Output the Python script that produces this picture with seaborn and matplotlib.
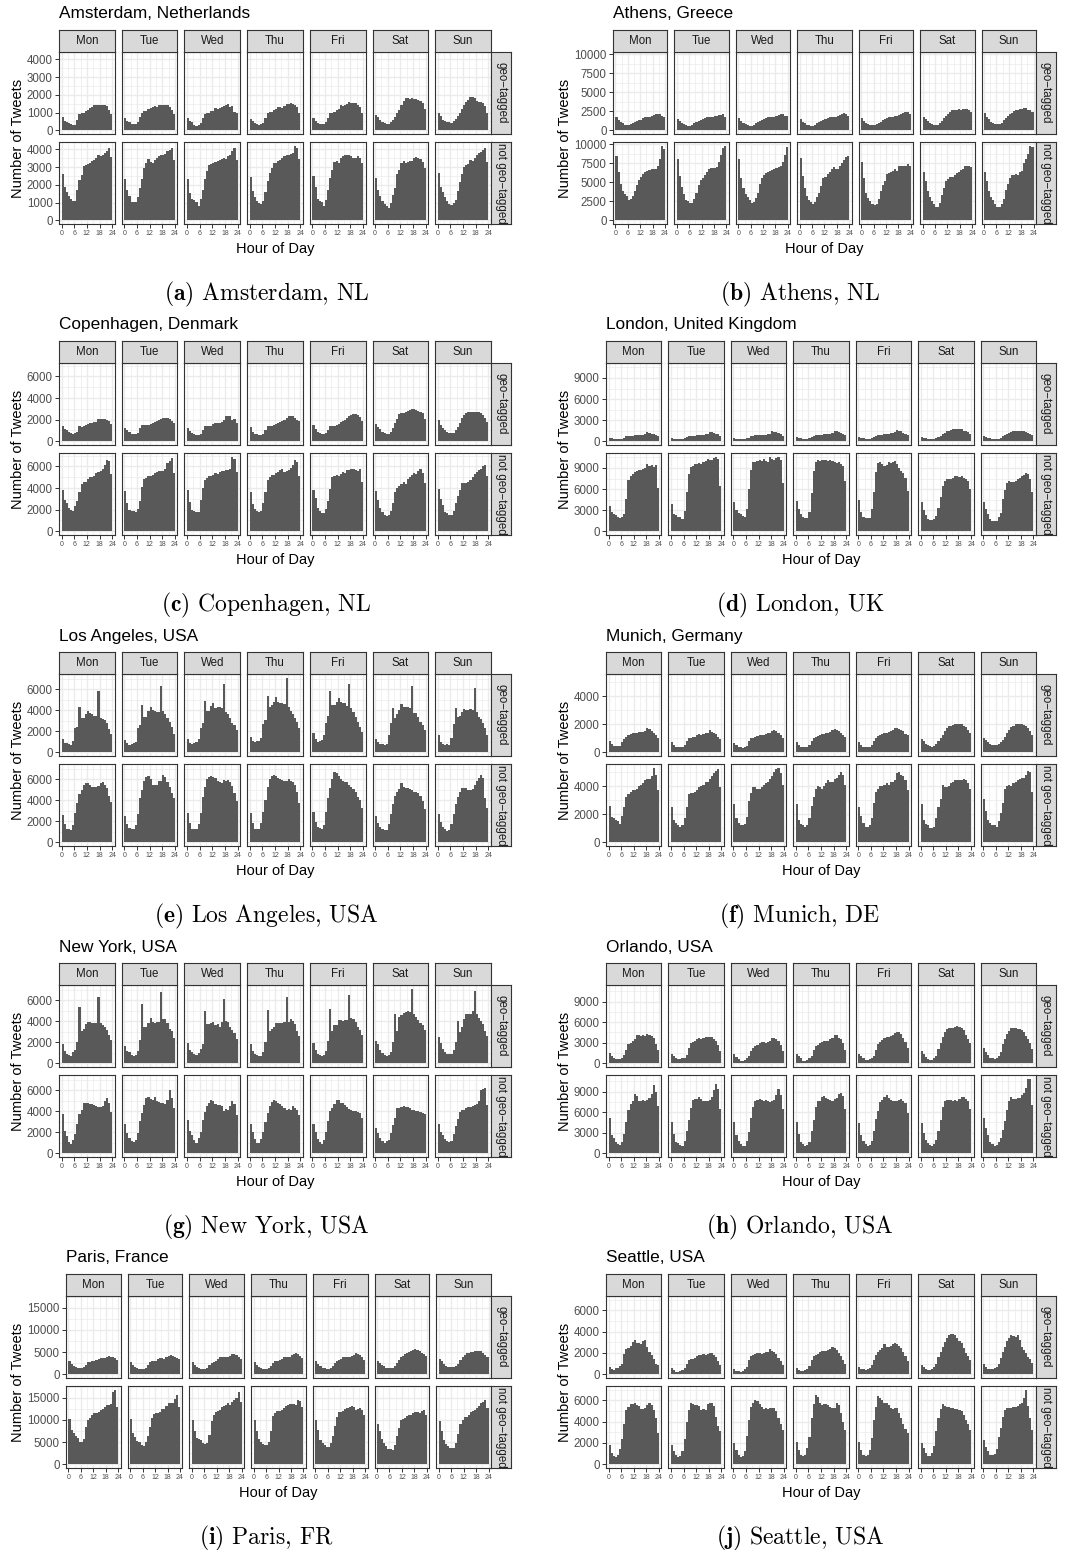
import matplotlib
matplotlib.use("Agg")
import matplotlib.pyplot as plt
import numpy as np
import pandas as pd
import seaborn as sns

sns.set_theme(style="white")
plt.rcParams["font.family"] = ["Liberation Sans", "DejaVu Sans"]
plt.rcParams["mathtext.fontset"] = "cm"

# ------------------------------------------------------------------ data
DAYS = ["Mon", "Tue", "Wed", "Thu", "Fri", "Sat", "Sun"]
HOURS = list(range(24))
ROW_LABELS = ["geo\u2212tagged", "not geo\u2212tagged"]

CITY_KEYS = ["amsterdam", "athens", "copenhagen", "london", "losangeles",
             "munich", "newyork", "orlando", "paris", "seattle"]
CITY_TITLES = ["Amsterdam, Netherlands", "Athens, Greece", "Copenhagen, Denmark",
               "London, United Kingdom", "Los Angeles, USA", "Munich, Germany",
               "New York, USA", "Orlando, USA", "Paris, France", "Seattle, USA"]
CAPTION_TAGS = ["(a)", "(b)", "(c)", "(d)", "(e)", "(f)", "(g)", "(h)", "(i)", "(j)"]
CAPTION_NAMES = ["Amsterdam, NL", "Athens, NL", "Copenhagen, NL", "London, UK",
                 "Los Angeles, USA", "Munich, DE", "New York, USA", "Orlando, USA",
                 "Paris, FR", "Seattle, USA"]
Y_BREAKS = [[0, 1000, 2000, 3000, 4000], [0, 2500, 5000, 7500, 10000],
            [0, 2000, 4000, 6000], [0, 3000, 6000, 9000], [0, 2000, 4000, 6000],
            [0, 2000, 4000], [0, 2000, 4000, 6000], [0, 3000, 6000, 9000],
            [0, 5000, 10000, 15000], [0, 2000, 4000, 6000]]
X_BREAKS = [0, 6, 12, 18, 24]
X_MINOR = [3, 9, 15, 21]

amsterdam_geo = [
    [750, 550, 450, 400, 350, 320, 300, 600, 900, 1000, 1000, 1100, 1150, 1250, 1300, 1400, 1400, 1450, 1450, 1450, 1450, 1350, 1150, 900],
    [700, 550, 450, 350, 330, 350, 450, 750, 1000, 1100, 1100, 1200, 1250, 1300, 1350, 1300, 1400, 1400, 1450, 1450, 1400, 1300, 1150, 900],
    [700, 500, 450, 300, 250, 280, 400, 700, 900, 1000, 1000, 1100, 1100, 1250, 1200, 1250, 1300, 1350, 1400, 1500, 1300, 1350, 1050, 950],
    [650, 500, 400, 350, 300, 330, 400, 700, 950, 1050, 1050, 1150, 1200, 1300, 1300, 1250, 1350, 1500, 1500, 1550, 1500, 1450, 1300, 1000],
    [700, 550, 400, 380, 380, 380, 450, 700, 950, 1000, 1050, 1150, 1200, 1400, 1350, 1450, 1500, 1600, 1550, 1550, 1550, 1450, 1300, 1000],
    [850, 750, 600, 450, 400, 350, 380, 450, 600, 750, 1000, 1150, 1450, 1650, 1800, 1800, 1750, 1800, 1750, 1750, 1700, 1650, 1550, 1200],
    [950, 800, 600, 500, 450, 450, 400, 500, 650, 800, 1000, 1200, 1450, 1600, 1700, 1850, 1850, 1800, 1650, 1600, 1600, 1550, 1350, 1000],
]
amsterdam_notgeo = [
    [2600, 1850, 1600, 1350, 1200, 1100, 1100, 1700, 2250, 2550, 3050, 3100, 3150, 3200, 3350, 3400, 3500, 3700, 3600, 3700, 3800, 3900, 4050, 3550],
    [2350, 1700, 1350, 1050, 1050, 1050, 1300, 1800, 2300, 2950, 3200, 3450, 3300, 3250, 3400, 3500, 3600, 3700, 3650, 3750, 3900, 3950, 4100, 3400],
    [2350, 1550, 1200, 1150, 1050, 800, 1200, 1700, 2300, 2800, 3100, 3150, 3250, 3300, 3350, 3400, 3450, 3500, 3450, 3600, 3700, 3900, 4050, 3400],
    [2450, 1650, 1300, 1100, 950, 900, 1100, 1600, 2200, 2650, 2950, 3250, 3200, 3350, 3400, 3500, 3600, 3650, 3700, 3750, 3800, 4200, 4100, 3450],
    [2500, 1850, 1200, 1100, 1050, 800, 1150, 1700, 2400, 2850, 3300, 3350, 3200, 3500, 3600, 3700, 3650, 3650, 3600, 3500, 3500, 3600, 3500, 3250],
    [2400, 1700, 1350, 1100, 900, 800, 700, 1000, 1400, 1800, 2600, 2850, 3200, 3350, 3250, 3300, 3350, 3350, 3500, 3550, 3500, 3450, 3300, 2950],
    [2650, 1900, 1600, 1300, 1100, 900, 850, 950, 1150, 1650, 2150, 2600, 3000, 3100, 3150, 3400, 3350, 3500, 3650, 3800, 3850, 3950, 4050, 3300],
]
athens_geo = [
    [1700, 1300, 1100, 900, 700, 650, 700, 800, 900, 1100, 1200, 1300, 1400, 1600, 1700, 1800, 1800, 1900, 2000, 2100, 2200, 2100, 1900, 1700],
    [1500, 1200, 1000, 800, 650, 600, 600, 700, 900, 1100, 1200, 1300, 1500, 1600, 1700, 1700, 1800, 1800, 1900, 1900, 2000, 2000, 2200, 1800],
    [1600, 1200, 1000, 800, 650, 600, 600, 750, 900, 1100, 1200, 1400, 1500, 1600, 1700, 1700, 1800, 1800, 1900, 2000, 2200, 2100, 1900, 1900],
    [1500, 1100, 900, 700, 650, 550, 550, 700, 900, 1100, 1200, 1300, 1500, 1600, 1700, 1700, 1800, 1800, 1900, 2000, 2200, 2300, 2100, 1900],
    [1600, 1200, 1000, 800, 700, 650, 650, 800, 900, 1100, 1300, 1500, 1600, 1700, 1800, 1800, 1900, 1900, 2000, 2100, 2300, 2400, 2400, 2200],
    [1800, 1500, 1200, 1000, 800, 650, 650, 700, 900, 1200, 1600, 1900, 2200, 2400, 2600, 2700, 2700, 2800, 2700, 2800, 2800, 2800, 2600, 2400],
    [2300, 1800, 1500, 1100, 900, 800, 800, 800, 1000, 1300, 1600, 1900, 2100, 2300, 2500, 2600, 2700, 2800, 2800, 2900, 2900, 2700, 2600, 2400],
]
athens_notgeo = [
    [8400, 6300, 4800, 3900, 3400, 3200, 2700, 2800, 3200, 3900, 4700, 5300, 5700, 6100, 6400, 6500, 6600, 6800, 6700, 6800, 7200, 8100, 9700, 9400],
    [8100, 5800, 4400, 3400, 2600, 2500, 2300, 2300, 2800, 3600, 4600, 5300, 5600, 6000, 6400, 6700, 6900, 6900, 6900, 7000, 7600, 8600, 9500, 9800],
    [8100, 5600, 4200, 3500, 3000, 2600, 2300, 2400, 2900, 3600, 4800, 5600, 6000, 6200, 6400, 6500, 6600, 6800, 6900, 7000, 7200, 7600, 8600, 9600],
    [8200, 5800, 4200, 3200, 2600, 2400, 2200, 2400, 3000, 3600, 4500, 5600, 5700, 6100, 6400, 6800, 7000, 6800, 6800, 7200, 7500, 7900, 8300, 8500],
    [7600, 5600, 3600, 2900, 2500, 2100, 2000, 2200, 2800, 3800, 4600, 5200, 6100, 6200, 6400, 6500, 6700, 6500, 7200, 7200, 7200, 7200, 7400, 7100],
    [6400, 5100, 3800, 3000, 2500, 2100, 1800, 1800, 2300, 3300, 4300, 5100, 5400, 5700, 5700, 5900, 6200, 6300, 6600, 6800, 7100, 7200, 7100, 7000],
    [6300, 5100, 3800, 3000, 2600, 2100, 1800, 1800, 2100, 2800, 4000, 4800, 5600, 5900, 5900, 6100, 6000, 6300, 6500, 7500, 8000, 8700, 9700, 9600],
]
copenhagen_geo = [
    [1400, 1150, 1000, 850, 750, 700, 800, 900, 1400, 1300, 1400, 1500, 1600, 1650, 1700, 1750, 1800, 2100, 2100, 2100, 2050, 2000, 1900, 1600],
    [1200, 1000, 850, 700, 700, 700, 800, 1200, 1500, 1500, 1500, 1500, 1600, 1700, 1800, 1900, 2000, 2100, 2150, 2200, 2200, 2050, 1900, 1650],
    [1200, 950, 800, 650, 600, 600, 700, 1000, 1400, 1400, 1400, 1450, 1600, 1650, 1700, 1700, 1800, 2000, 2300, 2350, 2300, 2000, 2100, 1650],
    [1300, 900, 700, 650, 600, 600, 700, 1000, 1400, 1400, 1450, 1500, 1600, 1700, 1800, 1900, 2000, 2200, 2300, 2300, 2300, 2200, 2000, 1850],
    [1500, 1100, 850, 750, 650, 650, 800, 1000, 1400, 1400, 1450, 1500, 1600, 1800, 1900, 2000, 2200, 2300, 2400, 2500, 2500, 2400, 2250, 1900],
    [1600, 1350, 1100, 900, 800, 700, 700, 900, 1200, 1700, 2100, 2500, 2600, 2600, 2700, 2800, 2900, 3000, 3000, 2900, 2800, 2700, 2600, 2100],
    [1950, 1500, 1250, 1000, 850, 800, 750, 800, 1000, 1300, 1700, 2200, 2400, 2600, 2700, 2700, 2750, 2750, 2700, 2700, 2600, 2400, 2200, 1800],
]
copenhagen_notgeo = [
    [3800, 2900, 2600, 2200, 2000, 1900, 2300, 2800, 3600, 4400, 4600, 4600, 4800, 5000, 5000, 5100, 5400, 5500, 5600, 5800, 6100, 6600, 6500, 5300],
    [3700, 2600, 2000, 1900, 1900, 1800, 2100, 2800, 4100, 4800, 4900, 5100, 5100, 5200, 5400, 5500, 5600, 5600, 5600, 5800, 6300, 6500, 6800, 5400],
    [3800, 2700, 2000, 1900, 1800, 1800, 2900, 4000, 4700, 4900, 5100, 5100, 5200, 5400, 5300, 5500, 5600, 5600, 5700, 5700, 5800, 6900, 6700, 5500],
    [3600, 2500, 2100, 1900, 1800, 1900, 2600, 3600, 4700, 5000, 5200, 5200, 5400, 5500, 5700, 5800, 5500, 5600, 5700, 5900, 6100, 6600, 6400, 5100],
    [3800, 3100, 2200, 1900, 1700, 1700, 2100, 2800, 3900, 5000, 5100, 5200, 5100, 5300, 5500, 5400, 5700, 5700, 5800, 5800, 5700, 5600, 5800, 4600],
    [3700, 2900, 2200, 1800, 1500, 1400, 1500, 1900, 2600, 3600, 4000, 4200, 4400, 4600, 4400, 4800, 5000, 5200, 5400, 5300, 5600, 5800, 5400, 4500],
    [3900, 3000, 2400, 1800, 1700, 1500, 1500, 1900, 2600, 3300, 3800, 4500, 4500, 4500, 4600, 4700, 5000, 5300, 5500, 5700, 5800, 6000, 6100, 5100],
]
london_geo = [
    [450, 400, 350, 300, 300, 300, 350, 450, 700, 800, 800, 800, 900, 900, 900, 950, 950, 1000, 1300, 1200, 1100, 1000, 900, 800],
    [400, 350, 350, 300, 300, 350, 400, 550, 700, 800, 800, 800, 850, 900, 900, 950, 1000, 1100, 1300, 1300, 1200, 1100, 1000, 800],
    [400, 350, 300, 300, 300, 350, 400, 500, 700, 800, 850, 850, 900, 900, 950, 950, 1000, 1100, 1400, 1350, 1300, 1200, 1000, 800],
    [600, 500, 400, 350, 300, 350, 400, 600, 800, 900, 900, 900, 950, 1000, 1000, 1050, 1100, 1200, 1450, 1400, 1300, 1200, 1100, 900],
    [600, 500, 400, 350, 300, 350, 450, 600, 800, 900, 900, 950, 1000, 1050, 1100, 1150, 1200, 1300, 1550, 1500, 1400, 1200, 1000, 900],
    [600, 500, 400, 350, 300, 300, 350, 400, 600, 800, 1000, 1200, 1400, 1500, 1600, 1700, 1750, 1750, 1750, 1700, 1500, 1400, 1300, 1000],
    [700, 600, 500, 400, 350, 300, 300, 350, 500, 700, 900, 1100, 1200, 1300, 1400, 1500, 1450, 1450, 1450, 1400, 1300, 1200, 1100, 900],
]
london_notgeo = [
    [3600, 2700, 2500, 2300, 2100, 1900, 2000, 2500, 4600, 7300, 7800, 8200, 8400, 8600, 8700, 8700, 8800, 9000, 9500, 9300, 9400, 9200, 9400, 6100],
    [3900, 2500, 2300, 2100, 2000, 1800, 2900, 5600, 8200, 9200, 9300, 9500, 9600, 9700, 9600, 9900, 10000, 10300, 10100, 10200, 10400, 10600, 10300, 6400],
    [4200, 3000, 2600, 2400, 2200, 2100, 3100, 6000, 8700, 9900, 9900, 10000, 10100, 10000, 10300, 10000, 9900, 10500, 10300, 10200, 10400, 10600, 10200, 6800],
    [4300, 3200, 2400, 2000, 1900, 1900, 2800, 5500, 8600, 9900, 10100, 10000, 10200, 10100, 10100, 10000, 10100, 10000, 9800, 9700, 9800, 9500, 9300, 7100],
    [4400, 2700, 2000, 1900, 1900, 1900, 3100, 5600, 8400, 9700, 9800, 9600, 9300, 9400, 9800, 9700, 9900, 10000, 9500, 9000, 8600, 8300, 7600, 5700],
    [4100, 3000, 2300, 1800, 1600, 1600, 1700, 2200, 3300, 4900, 6400, 7200, 7500, 7500, 7400, 7600, 7800, 7900, 7700, 7800, 7600, 7500, 7100, 6000],
    [4200, 3100, 2400, 1800, 1500, 1500, 1500, 2000, 2600, 4600, 5900, 6900, 7100, 7000, 7000, 7200, 7400, 7600, 7800, 8000, 8300, 8100, 7500, 5600],
]
losangeles_geo = [
    [1250, 900, 850, 800, 700, 1100, 2300, 2450, 4300, 3300, 3300, 3600, 3900, 3700, 3600, 3500, 3500, 5800, 3300, 3200, 3100, 2800, 2200, 1700],
    [1150, 850, 700, 800, 900, 950, 2300, 2600, 4500, 3400, 3400, 3900, 4300, 4000, 3900, 3800, 3800, 6300, 3900, 3600, 3300, 2900, 2400, 1700],
    [1250, 850, 800, 850, 950, 1300, 2300, 2800, 4900, 3900, 3900, 4400, 4700, 4200, 4300, 4300, 4200, 6500, 3800, 3600, 3300, 2800, 2600, 2100],
    [1500, 1100, 950, 1100, 1100, 1400, 2700, 3100, 5400, 4300, 4500, 4800, 5300, 4800, 4700, 4700, 4600, 7100, 4300, 3900, 3600, 3300, 2900, 2300],
    [1800, 1250, 950, 1100, 1150, 1600, 2800, 3500, 5800, 4500, 4500, 4800, 5200, 4800, 4700, 4700, 4400, 6500, 4200, 3800, 3400, 2900, 2400, 1900],
    [1300, 1000, 800, 750, 700, 800, 1650, 2800, 4200, 3300, 3600, 4000, 4600, 4300, 4300, 4300, 4200, 6300, 3700, 3700, 3400, 2900, 2600, 2100],
    [1650, 1000, 800, 650, 750, 700, 1400, 2700, 4200, 3400, 3500, 3800, 4100, 4000, 4000, 4100, 4000, 6100, 3800, 3400, 3200, 2800, 2300, 1650],
]
losangeles_notgeo = [
    [2600, 1700, 1300, 1250, 1200, 1600, 2800, 3700, 4600, 5000, 5500, 5600, 5600, 5500, 5300, 5300, 5300, 5400, 5600, 5700, 5500, 5200, 4400, 3800],
    [2500, 1700, 1400, 1300, 1300, 1600, 2700, 4200, 5000, 5800, 6200, 6300, 6000, 5500, 5500, 5500, 5800, 5800, 6400, 6200, 5700, 5300, 4700, 4200],
    [2800, 1800, 1300, 1300, 1300, 1700, 2800, 4300, 5300, 6000, 6200, 6300, 6200, 6100, 5800, 5700, 5600, 5900, 5800, 5900, 5700, 5400, 4700, 3900],
    [2800, 1800, 1300, 1300, 1300, 1800, 2900, 4000, 5300, 6000, 6300, 6400, 6300, 6100, 6000, 5900, 5800, 5800, 6000, 5800, 5700, 5500, 4800, 3700],
    [2900, 1900, 1500, 1400, 1300, 1600, 2900, 4200, 5200, 6000, 6700, 6600, 6300, 6000, 5800, 5700, 5700, 5500, 5300, 5100, 4800, 4300, 4000, 3300],
    [2500, 1800, 1500, 1300, 1200, 1200, 1700, 2700, 3600, 4400, 4800, 5100, 5600, 5300, 5200, 5200, 5100, 5000, 4800, 4800, 4700, 4400, 3900, 3200],
    [2700, 1900, 1500, 1300, 1100, 1200, 1700, 2700, 3600, 4300, 4800, 5200, 5200, 5200, 5000, 5000, 5100, 5500, 5800, 6100, 6400, 6100, 4200, 3300],
]
munich_geo = [
    [800, 600, 450, 450, 450, 450, 700, 950, 1100, 1200, 1300, 1350, 1350, 1400, 1450, 1450, 1450, 1500, 1750, 1650, 1500, 1400, 1200, 1050],
    [700, 500, 400, 350, 350, 400, 500, 800, 1000, 1050, 1100, 1100, 1200, 1300, 1200, 1300, 1350, 1400, 1550, 1450, 1400, 1300, 1100, 950],
    [650, 500, 400, 350, 300, 350, 450, 800, 1000, 1050, 1100, 1150, 1200, 1200, 1250, 1300, 1350, 1400, 1500, 1550, 1500, 1400, 1250, 1050],
    [700, 500, 400, 350, 350, 400, 500, 800, 1000, 1100, 1150, 1200, 1300, 1300, 1350, 1400, 1450, 1550, 1650, 1600, 1500, 1400, 1250, 1100],
    [750, 550, 400, 350, 350, 400, 550, 800, 1000, 1150, 1200, 1300, 1350, 1400, 1450, 1500, 1600, 1700, 1700, 1650, 1600, 1500, 1300, 1200],
    [950, 800, 600, 500, 450, 400, 450, 600, 800, 1000, 1200, 1500, 1700, 1850, 1900, 1950, 2000, 2000, 2000, 2000, 1900, 1800, 1600, 1400],
    [1050, 900, 700, 600, 550, 500, 550, 600, 750, 900, 1100, 1400, 1600, 1800, 1900, 2000, 2000, 2000, 2000, 1950, 1850, 1700, 1500, 1200],
]
munich_notgeo = [
    [2600, 1800, 1700, 1600, 1500, 1300, 1900, 2500, 3200, 3400, 3600, 3700, 3700, 3800, 4000, 4100, 4200, 4400, 4500, 4500, 4700, 5300, 4800, 3700],
    [2500, 1600, 1400, 1200, 1100, 1200, 1700, 2500, 3400, 3500, 3500, 3600, 3700, 3900, 4000, 4100, 4300, 4300, 4500, 4700, 4900, 5100, 5200, 3900],
    [2700, 1700, 1400, 1200, 1200, 1300, 1800, 2900, 3500, 3900, 3900, 3800, 3800, 3900, 4100, 4200, 4300, 4500, 4700, 5000, 5200, 5300, 4900, 4100],
    [2700, 1600, 1300, 1200, 1100, 1200, 1700, 2600, 3200, 3800, 4000, 3900, 3800, 4000, 4200, 4400, 4300, 4300, 4500, 4600, 4800, 5000, 4800, 4100],
    [2500, 1900, 1400, 1100, 1100, 1200, 1700, 2800, 3600, 3800, 4000, 4000, 4100, 4200, 4100, 4300, 4300, 4400, 4900, 5000, 4800, 4700, 4400, 3700],
    [2700, 1600, 1300, 1200, 1000, 1000, 1100, 1700, 2500, 3100, 4100, 3900, 3900, 4000, 4200, 4300, 4400, 4400, 4400, 4400, 4500, 4400, 4200, 3800],
    [3100, 2200, 1600, 1400, 1200, 1200, 1100, 1500, 2100, 2800, 3800, 4000, 4100, 4000, 4200, 4300, 4400, 4500, 4600, 4600, 4800, 5100, 5000, 3600],
]
newyork_geo = [
    [1800, 1200, 900, 800, 700, 1100, 1300, 2000, 5400, 3100, 3300, 3700, 3900, 3900, 3800, 3800, 3800, 6300, 3800, 3600, 3500, 3200, 2700, 2200],
    [1600, 1200, 1100, 800, 700, 800, 1200, 2200, 5600, 3500, 3500, 3800, 4300, 3900, 3800, 3900, 3900, 6800, 4200, 4200, 3800, 3300, 3100, 2400],
    [1900, 1300, 1100, 900, 800, 1000, 1400, 1800, 5000, 3700, 3700, 3800, 3900, 3600, 3700, 3500, 3900, 6100, 4000, 3900, 3500, 3200, 2900, 2300],
    [1800, 1200, 900, 800, 700, 700, 1100, 2000, 5100, 3100, 3300, 3500, 3800, 3800, 3800, 3800, 3900, 6300, 3900, 4200, 4000, 3700, 3100, 2600],
    [1900, 1300, 900, 800, 700, 800, 1200, 2100, 5200, 3100, 3600, 3600, 4100, 4100, 4000, 4100, 4100, 6500, 4300, 4200, 3900, 3500, 3200, 2700],
    [2100, 1800, 1300, 1000, 800, 700, 800, 1100, 2000, 4700, 3100, 4400, 4600, 4800, 4900, 5000, 4900, 7100, 4700, 4400, 4100, 3800, 3600, 3200],
    [2500, 1900, 1400, 1100, 900, 900, 900, 1300, 2000, 4000, 3000, 3500, 4200, 4700, 4700, 4700, 5000, 6900, 4700, 4300, 4000, 3700, 3100, 2600],
]
newyork_notgeo = [
    [3700, 2100, 1600, 1100, 900, 1300, 1800, 2800, 3700, 4100, 4800, 4800, 4800, 4700, 4700, 4600, 4500, 4400, 4400, 4500, 5000, 5300, 4800, 3900],
    [2800, 1900, 1500, 1200, 1100, 1300, 1900, 3100, 3800, 4600, 5300, 5400, 5200, 5100, 5400, 5000, 4900, 4800, 4800, 4700, 5100, 6000, 5300, 4300],
    [3200, 2100, 1700, 1300, 1000, 1500, 2000, 3200, 3900, 4500, 4800, 5100, 5000, 4700, 4600, 4600, 4500, 4000, 4200, 4100, 4500, 5000, 4700, 3600],
    [2800, 2000, 1400, 1000, 1000, 1400, 2000, 3000, 3800, 4500, 4900, 5100, 5000, 4800, 4700, 4500, 4300, 4100, 4200, 4100, 4500, 4300, 4100, 3600],
    [2800, 2000, 1400, 1100, 900, 1300, 2000, 3100, 4000, 4300, 4700, 5100, 5100, 4800, 4800, 4600, 4400, 4200, 4100, 4000, 4000, 3900, 3800, 3400],
    [2400, 1900, 1500, 1200, 1000, 1200, 1300, 1900, 2700, 3400, 4300, 4300, 4400, 4500, 4400, 4400, 4300, 4100, 4100, 4000, 4000, 3900, 3800, 3700],
    [2800, 2000, 1700, 1400, 1200, 1100, 1200, 1800, 2600, 3300, 3900, 4100, 4100, 4300, 4400, 4400, 4500, 4600, 4700, 5000, 6000, 6100, 6200, 4600],
]
orlando_geo = [
    [1500, 1000, 700, 600, 600, 600, 800, 1200, 2000, 2800, 3000, 3300, 3600, 4100, 4200, 4000, 4100, 4000, 4300, 4200, 4000, 3700, 2800, 2000],
    [1300, 1000, 700, 650, 650, 700, 800, 1200, 2200, 3000, 3100, 3200, 3500, 3700, 3600, 3700, 3800, 3800, 3900, 3800, 3600, 3300, 2700, 1800],
    [1300, 900, 600, 400, 400, 500, 700, 1100, 1800, 2300, 2500, 2700, 2900, 3100, 3100, 3000, 3100, 3300, 3700, 3700, 3500, 3300, 2600, 1800],
    [1300, 1000, 700, 400, 400, 500, 700, 1100, 1900, 2500, 2700, 2900, 3100, 3200, 3300, 3300, 3500, 3700, 4100, 4100, 3700, 3500, 2900, 2000],
    [1400, 1000, 700, 500, 500, 600, 800, 1100, 2000, 2800, 3100, 3400, 3700, 3900, 3800, 4000, 4200, 4400, 4500, 4500, 4300, 3700, 3100, 2300],
    [1800, 1300, 900, 600, 500, 500, 700, 1100, 2100, 3000, 3800, 4500, 5000, 5200, 5100, 5200, 5300, 5400, 5300, 5200, 4800, 4200, 3600, 2900],
    [2300, 1700, 1200, 800, 700, 600, 700, 1000, 1700, 2800, 3600, 4300, 4700, 5100, 5200, 5100, 5000, 5000, 4800, 4500, 4000, 3500, 2900, 2100],
]
orlando_notgeo = [
    [5200, 2700, 2200, 1700, 1300, 1200, 1700, 2800, 4500, 6300, 7200, 7600, 8600, 8400, 7700, 7600, 7800, 7700, 7800, 8100, 8600, 10000, 9000, 6900],
    [4500, 2800, 1700, 1500, 1200, 1000, 1800, 3300, 4800, 6600, 7800, 7900, 7900, 8200, 7900, 7700, 7700, 7600, 7800, 8300, 9200, 10100, 9400, 6500],
    [4500, 2700, 1800, 1300, 1100, 1100, 1800, 3100, 5100, 6700, 7600, 7800, 7900, 7800, 7700, 7800, 7700, 7500, 7600, 7800, 8500, 9400, 8500, 6500],
    [4600, 2800, 1700, 1300, 1100, 1200, 1700, 3300, 4800, 6700, 7600, 7700, 8200, 8400, 8100, 8000, 7800, 7700, 7900, 8100, 8600, 8800, 8400, 6500],
    [4400, 2700, 1800, 1300, 1100, 1200, 1800, 3300, 5000, 6200, 7500, 7800, 8200, 8500, 8100, 7800, 7700, 7600, 7700, 7800, 7900, 7700, 7300, 5900],
    [4400, 2900, 2000, 1500, 1200, 1100, 1400, 2000, 3300, 4800, 6700, 7600, 7800, 7800, 7800, 7600, 7800, 7700, 8000, 8300, 8200, 8000, 7600, 6500],
    [5200, 3700, 2700, 1700, 1300, 1100, 1200, 1600, 2300, 3400, 4700, 6400, 7700, 8200, 8000, 7900, 8100, 8100, 8500, 8800, 9500, 10900, 10800, 7100],
]
paris_geo = [
    [3100, 2300, 1900, 1600, 1500, 1400, 1400, 1600, 2200, 2700, 2700, 2900, 3000, 3200, 3500, 3600, 3600, 3600, 4000, 4100, 4000, 3900, 3600, 3200],
    [2700, 2100, 1700, 1400, 1300, 1200, 1200, 1500, 2000, 2700, 2900, 2900, 3000, 3400, 3700, 3600, 3500, 3800, 4100, 4400, 4200, 4000, 3700, 3400],
    [2700, 2100, 1700, 1400, 1300, 1200, 1200, 1400, 2000, 2600, 2800, 3000, 3500, 3800, 3800, 3800, 3800, 3900, 4200, 4600, 4600, 4400, 4000, 3400],
    [2700, 2100, 1700, 1400, 1300, 1200, 1200, 1500, 1900, 2500, 2900, 3000, 3300, 3500, 3800, 3800, 3800, 3900, 4300, 4600, 4800, 4600, 4200, 3600],
    [3100, 2400, 1800, 1500, 1400, 1300, 1300, 1500, 1900, 2600, 3100, 3300, 3500, 3800, 3900, 4000, 3900, 4200, 4400, 4800, 4600, 4300, 4000, 3300],
    [3100, 2600, 2100, 1800, 1500, 1400, 1400, 1500, 1900, 2600, 3200, 3800, 4100, 4500, 4900, 5100, 5200, 5500, 5700, 5500, 5200, 4800, 4500, 4100],
    [3500, 3000, 2400, 1900, 1700, 1600, 1600, 1600, 1800, 2400, 3300, 4000, 4400, 4700, 4800, 5000, 5000, 5200, 5200, 5300, 5200, 4900, 4400, 3800],
]
paris_notgeo = [
    [10100, 7800, 7000, 6300, 6000, 5000, 5000, 5800, 8400, 9900, 10500, 11100, 11500, 11500, 11800, 12200, 12500, 13000, 13300, 13400, 13500, 16200, 16800, 12800],
    [10200, 7000, 6100, 5200, 5000, 4300, 4100, 5000, 6300, 8500, 10500, 11400, 11600, 11500, 11800, 12500, 12400, 13200, 13700, 13900, 13900, 14800, 15500, 12800],
    [9900, 7600, 6000, 5600, 5500, 4800, 4500, 4700, 6500, 9700, 11200, 11800, 12100, 12300, 13000, 13100, 13300, 13700, 13400, 14100, 14500, 15000, 16300, 14000],
    [9900, 7400, 5800, 5000, 4600, 4300, 4300, 5000, 7500, 10800, 11600, 11900, 12000, 12200, 12700, 13100, 13300, 13600, 13600, 13500, 13400, 14500, 14200, 13000],
    [10000, 7700, 5500, 4900, 4300, 4000, 3900, 4700, 6400, 8600, 10700, 11800, 11700, 12000, 12400, 12700, 12900, 13100, 12800, 12200, 12400, 12600, 12200, 11200],
    [9100, 7600, 5700, 4700, 4100, 3500, 3400, 3200, 4400, 6300, 8200, 9900, 10300, 10500, 10800, 11000, 11200, 11600, 11800, 11700, 11500, 12000, 12200, 11000],
    [9700, 7400, 5400, 4600, 4200, 3700, 3600, 3600, 4800, 6900, 9000, 9900, 10700, 10700, 11200, 11800, 12100, 12200, 12700, 13200, 13700, 14100, 14500, 12600],
]
seattle_geo = [
    [650, 500, 400, 550, 600, 800, 1000, 1900, 2400, 2500, 2700, 3000, 3200, 2900, 2900, 2800, 3100, 3200, 2600, 2100, 1800, 1400, 1000, 900],
    [550, 400, 200, 250, 300, 400, 600, 1000, 1300, 1400, 1400, 1500, 1700, 1800, 1800, 1900, 1800, 1900, 2000, 2000, 1800, 1600, 1200, 900],
    [450, 350, 300, 250, 350, 500, 700, 1300, 1700, 1800, 1900, 2000, 2000, 1900, 2000, 2100, 2100, 2400, 2200, 2100, 1900, 1500, 1200, 900],
    [550, 400, 300, 300, 400, 500, 800, 1300, 1700, 1800, 1900, 2100, 2200, 2200, 2200, 2300, 2400, 2600, 2500, 2300, 2000, 1700, 1300, 1000],
    [650, 450, 450, 400, 500, 600, 900, 1300, 1800, 2100, 2300, 2500, 2800, 2600, 2600, 2700, 2800, 2900, 2800, 2700, 2500, 2100, 1700, 1200],
    [900, 700, 500, 400, 400, 500, 700, 1000, 1600, 2100, 2600, 3000, 3400, 3700, 3800, 3800, 3700, 3400, 3100, 2900, 2500, 2000, 1700, 1300],
    [950, 700, 500, 450, 500, 600, 700, 1000, 1500, 2100, 2600, 3100, 3400, 3700, 3600, 3500, 3700, 3200, 2600, 2300, 2000, 1600, 1400, 1100],
]
seattle_notgeo = [
    [1800, 1100, 800, 700, 900, 1400, 2400, 3800, 5100, 5400, 5700, 5700, 5800, 5600, 5500, 5200, 5200, 5300, 5600, 5800, 5600, 5100, 4300, 2900],
    [1800, 1200, 900, 700, 800, 1200, 2400, 4000, 5100, 5800, 5700, 5600, 5600, 5500, 5100, 5200, 5100, 5700, 5800, 5800, 5500, 4400, 3600, 3100],
    [2000, 1300, 900, 700, 800, 1200, 2700, 4200, 5400, 5800, 6000, 5900, 5700, 5400, 5200, 5300, 5200, 5300, 5300, 5300, 5000, 4300, 3800, 3200],
    [2100, 1300, 900, 800, 900, 1500, 2600, 4300, 5700, 6500, 6300, 5800, 5600, 5700, 5700, 5600, 5400, 5300, 5300, 5800, 5600, 4800, 4000, 3200],
    [2100, 1300, 900, 800, 900, 1300, 2500, 4200, 5400, 6400, 6200, 6000, 5800, 5800, 5600, 5300, 5200, 5300, 5300, 4800, 4300, 3800, 3300, 2900],
    [2000, 1500, 1100, 800, 800, 1100, 1700, 3100, 4300, 5200, 5700, 5500, 5400, 5400, 5300, 5300, 5200, 5200, 5100, 5000, 4600, 4200, 3800, 3200],
    [2300, 1600, 1200, 900, 900, 1000, 1400, 2600, 3400, 4400, 5100, 5300, 5300, 5300, 5400, 5400, 5500, 5700, 5800, 6200, 7000, 5500, 4300, 3200],
]

GEO = [amsterdam_geo, athens_geo, copenhagen_geo, london_geo, losangeles_geo,
       munich_geo, newyork_geo, orlando_geo, paris_geo, seattle_geo]
NOTGEO = [amsterdam_notgeo, athens_notgeo, copenhagen_notgeo, london_notgeo,
          losangeles_notgeo, munich_notgeo, newyork_notgeo, orlando_notgeo,
          paris_notgeo, seattle_notgeo]

records = []
for key, g, ng in zip(CITY_KEYS, GEO, NOTGEO):
    for tag, block in zip(ROW_LABELS, (g, ng)):
        for day, vals in zip(DAYS, block):
            for h, v in zip(HOURS, vals):
                records.append((key, tag, day, h, v))
df = pd.DataFrame(records, columns=["city", "tag", "day", "hour", "tweets"])

# ------------------------------------------------------------------ styling
BAR = "#595959"
GRID = "#EBEBEB"
FRAME = "#333333"
STRIP = "#D9D9D9"
TICKTXT = "#4D4D4D"

W, H = 1067, 1550
fig = plt.figure(figsize=(W / 100, H / 100), dpi=100)
fig.patch.set_facecolor("white")


def axes_px(x, y, w, h):
    return fig.add_axes([x / W, 1 - (y + h) / H, w / W, h / H])


def fig_xy(x, y):
    return x / W, 1 - y / H


for ci in range(len(CITY_KEYS)):
    r, c = divmod(ci, 2)
    y0 = 2 + 311 * r
    L = 8 + 547 * c
    area_r = 491 + 545 * c
    breaks = Y_BREAKS[ci]
    nd = len(str(breaks[-1]))
    P = L + 51 + 7 * (nd - 4)
    gap = 7.0
    pw = (area_r - P - 6 * gap) / 7
    sh, ph, vgap, rsw = 22, 82, 8, 20
    strip_top = y0 + 28
    row_tops = [strip_top + sh, strip_top + sh + ph + vgap]

    city_df = df[df.city == CITY_KEYS[ci]]
    ymax = city_df.tweets.max()
    ylim = (-0.05 * ymax, 1.05 * ymax)
    step = breaks[1] - breaks[0]
    yminor = np.arange(breaks[0] + step / 2, ylim[1], step)

    for ri, tag in enumerate(ROW_LABELS):
        for di, day in enumerate(DAYS):
            ax = axes_px(P + di * (pw + gap), row_tops[ri], pw, ph)
            sub = city_df[(city_df.tag == tag) & (city_df.day == day)]
            sns.histplot(data=sub, x="hour", weights="tweets", bins=24,
                         binrange=(0, 24), color=BAR, alpha=1, linewidth=0,
                         ax=ax)
            ax.set_xlabel("")
            ax.set_ylabel("")
            ax.set_facecolor("white")
            ax.set_xlim(-1.2, 25.2)
            ax.set_ylim(*ylim)
            ax.set_xticks(X_BREAKS)
            ax.set_xticks(X_MINOR, minor=True)
            ax.set_yticks(breaks)
            ax.set_yticks(yminor, minor=True)
            ax.set_axisbelow(True)
            ax.grid(which="major", color=GRID, linewidth=1.0)
            ax.grid(which="minor", color=GRID, linewidth=0.5)
            for sp in ax.spines.values():
                sp.set_color(FRAME)
                sp.set_linewidth(0.8)
                sp.set_visible(True)
            ax.tick_params(which="minor", length=0)
            ax.tick_params(axis="y", which="major", left=(di == 0),
                           labelleft=(di == 0), length=3.0, width=0.7,
                           color=FRAME, labelsize=8.3, labelcolor=TICKTXT, pad=1.5)
            ax.tick_params(axis="x", which="major", bottom=(ri == 1),
                           labelbottom=(ri == 1), length=3.0, width=0.7,
                           color=FRAME, labelsize=5, labelcolor=TICKTXT, pad=1.5)
            # top strips
            if ri == 0:
                sax = axes_px(P + di * (pw + gap), strip_top, pw, sh)
                sax.set_facecolor(STRIP)
                sax.set_xticks([])
                sax.set_yticks([])
                for sp in sax.spines.values():
                    sp.set_color(FRAME)
                    sp.set_linewidth(0.8)
                    sp.set_visible(True)
                sax.text(0.5, 0.5, day, ha="center", va="center", fontsize=8.3,
                         color="#1A1A1A", transform=sax.transAxes)
        # right strip
        rax = axes_px(area_r, row_tops[ri], rsw, ph)
        rax.set_facecolor(STRIP)
        rax.set_xticks([])
        rax.set_yticks([])
        for sp in rax.spines.values():
            sp.set_color(FRAME)
            sp.set_linewidth(0.8)
            sp.set_visible(True)
        rax.text(0.5, 0.5, tag, ha="center", va="center", fontsize=8.3,
                 color="#1A1A1A", rotation=-90, transform=rax.transAxes)

    # titles and axis titles
    fig.text(*fig_xy(P, y0 + 12), CITY_TITLES[ci], ha="left", va="center",
             fontsize=12.4, color="black")
    fig.text(*fig_xy(L + 10, row_tops[0] + ph + vgap / 2), "Number of Tweets",
             rotation=90, ha="center", va="center", fontsize=10.5, color="black")
    fig.text(*fig_xy((P + area_r) / 2, y0 + 247), "Hour of Day", ha="center",
             va="center", fontsize=10.5, color="black")
    # caption
    fig.text(*fig_xy(266.5 + 533.5 * c, y0 + 292),
             r"$\mathbf{" + CAPTION_TAGS[ci] + r"}$ " + CAPTION_NAMES[ci],
             ha="center", va="center", fontsize=17, family="cmr10", color="black")

fig.savefig("out.png", dpi=100, facecolor="white")
